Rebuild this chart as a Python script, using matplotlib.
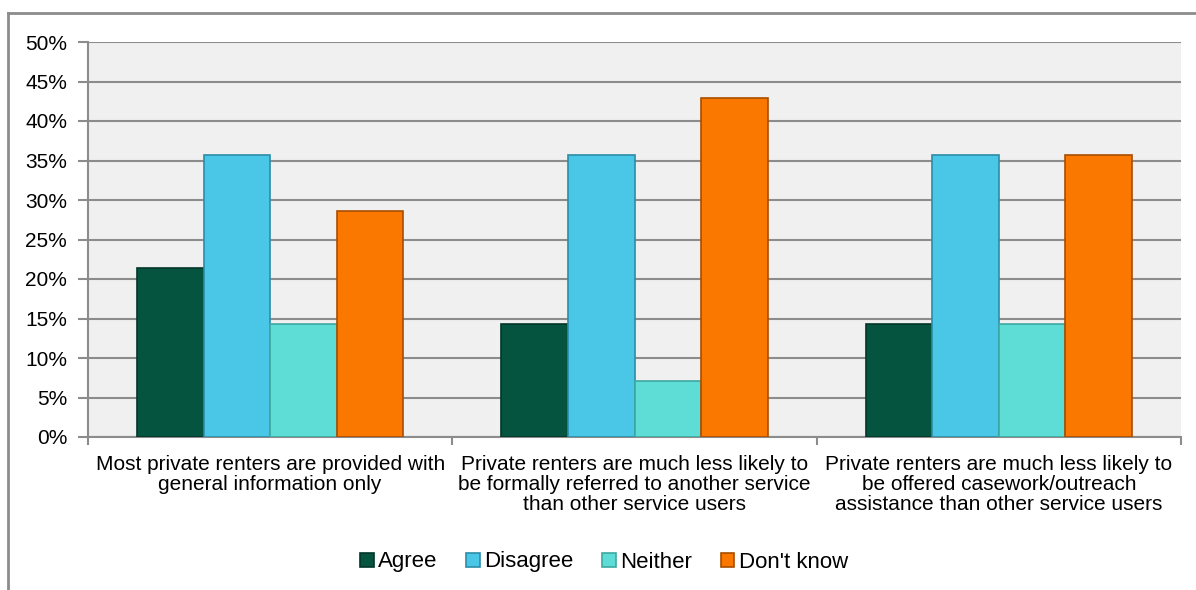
import matplotlib
matplotlib.use("Agg")
import matplotlib.pyplot as plt
import numpy as np
from matplotlib.lines import Line2D

plt.rcParams['font.family'] = ['Liberation Sans', 'DejaVu Sans']

categories = [
    "Most private renters are provided with\ngeneral information only",
    "Private renters are much less likely to\nbe formally referred to another service\nthan other service users",
    "Private renters are much less likely to\nbe offered casework/outreach\nassistance than other service users",
]
series_names = ["Agree", "Disagree", "Neither", "Don't know"]
agree = [21.4, 14.3, 14.3]
disagree = [35.7, 35.7, 35.7]
neither = [14.3, 7.1, 14.3]
dont_know = [28.6, 42.9, 35.7]
yticks = [0, 5, 10, 15, 20, 25, 30, 35, 40, 45, 50]

colors = ["#04543F", "#4AC6E6", "#5EDDD6", "#FA7700"]
edges = ["#02362A", "#2C8DA8", "#3EA9A2", "#A84E00"]

fig = plt.figure(figsize=(11.96, 5.9), dpi=100)
# outer frame (top and left visible)
fig.add_artist(Line2D([8/1196, 1.0], [1 - 13/590, 1 - 13/590], transform=fig.transFigure,
                      color="#8C8C8C", linewidth=2))
fig.add_artist(Line2D([8/1196, 8/1196], [0, 1 - 13/590], transform=fig.transFigure,
                      color="#8C8C8C", linewidth=2))
ax = fig.add_axes([88/1196, 1 - 437/590, (1181-88)/1196, (437-42)/590])
ax.set_facecolor("#F0F0F0")

x = np.arange(len(categories))
w = 0.1827
data = [agree, disagree, neither, dont_know]
for i, (vals, c, ec, name) in enumerate(zip(data, colors, edges, series_names)):
    ax.bar(x + (i - 1.5) * w, vals, width=w, color=c, edgecolor=ec, linewidth=1.2,
           label=name, zorder=3)

ax.set_ylim(0, 50)
ax.set_xlim(-0.5, len(categories) - 0.5)
ax.set_yticks(yticks)
ax.set_yticklabels([f"{t}%" for t in yticks], fontsize=15)
ax.yaxis.grid(True, color="#8C8C8C", linewidth=1.5, zorder=0)
ax.set_axisbelow(True)
ax.set_xticks(x)
ax.set_xticklabels(categories, fontsize=15, linespacing=1.08)
ax.tick_params(axis='x', length=0, pad=13)
ax.set_xticks(np.arange(-0.5, len(categories)), minor=True)
ax.tick_params(axis='x', which='minor', length=6, color="#8C8C8C", width=1.5)
ax.tick_params(axis='y', length=7, color="#8C8C8C", width=1.5, pad=8)
for s in ["top", "right"]:
    ax.spines[s].set_visible(False)
for s in ["left", "bottom"]:
    ax.spines[s].set_color("#8C8C8C")
    ax.spines[s].set_linewidth(1.5)

fig.legend(loc="center", bbox_to_anchor=(604/1196, 1 - 562/590), ncol=4, frameon=False,
           fontsize=16, handlelength=0.6, handleheight=0.6, handletextpad=0.2, columnspacing=1.3)

fig.savefig("out.png", dpi=100)
